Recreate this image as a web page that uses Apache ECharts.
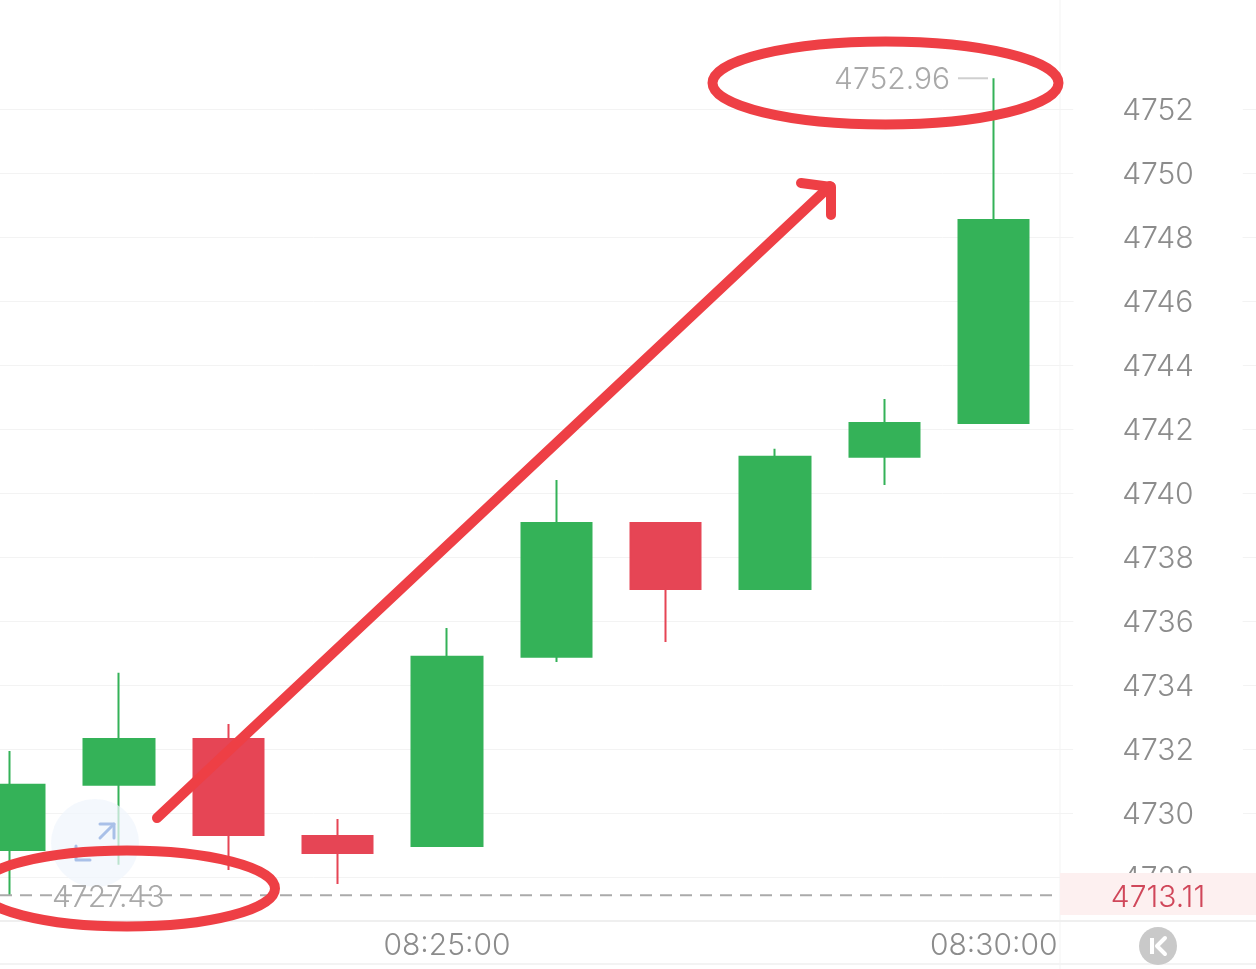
<!DOCTYPE html>
<html>
<head>
<meta charset="utf-8">
<style>html,body{margin:0;padding:0;background:#fff}#c{width:1256px;height:969px}</style>
<script src="https://cdn.jsdelivr.net/npm/echarts@6/dist/echarts.min.js"></script>
</head>
<body>
<div id="c"></div>
<script>
// two spare categories on the right so the grid lines run off the page
const times = ['08:21:00', '08:22:00', '08:23:00', '08:24:00', '08:25:00', '08:26:00', '08:27:00', '08:28:00', '08:29:00', '08:30:00', '08:31:00', '08:32:00'];
const shownTimes = ['08:25:00', '08:30:00'];
const opens = [4728.84, 4730.88, 4732.31, 4729.28, 4728.97, 4734.88, 4739.06, 4737.00, 4741.13, 4742.19];
const closes = [4730.88, 4732.31, 4729.31, 4728.75, 4734.88, 4739.06, 4737.00, 4741.13, 4742.19, 4748.53];
const lows = [4727.43, 4728.38, 4728.22, 4727.78, 4728.97, 4734.72, 4735.34, 4737.00, 4740.25, 4742.19];
const highs = [4731.94, 4734.38, 4732.78, 4729.81, 4735.78, 4740.41, 4739.06, 4741.38, 4742.94, 4752.96];
const lowLabel = 4727.43;
const highLabel = 4752.96;
const lastLabel = '4713.11';

const GREEN = '#34b258', RED = '#e64555', INK = '#ee3f45', GREY = '#8c8c8c', SOFT = '#a9a9a9';
const FONT = 'Inter, Roboto, sans-serif';
const SIZE = 30;

const chart = echarts.init(document.getElementById('c'), null, { renderer: 'canvas' });
chart.setOption({
  animation: false,
  backgroundColor: '#fff',
  grid: { left: -45, top: 45, width: 1312, height: 896, outerBoundsMode: 'none' },
  xAxis: {
    type: 'category', data: times,
    axisLine: { show: false }, axisTick: { show: false }, splitLine: { show: false },
    axisLabel: {
      color: GREY, fontFamily: FONT, fontWeight: 300, fontSize: SIZE, margin: 5, verticalAlign: 'middle',
      interval: (i, v) => shownTimes.includes(v),
    },
  },
  yAxis: {
    type: 'value', position: 'right', min: 4726, max: 4754, interval: 2,
    axisLine: { show: false }, axisTick: { show: false },
    splitLine: { lineStyle: { color: '#f3f3f3', width: 1 }, showMinLine: false, showMaxLine: false },
    axisLabel: {
      inside: true, margin: 109, align: 'center', verticalAlign: 'top', lineHeight: 4,
      color: GREY, fontFamily: FONT, fontWeight: 300, fontSize: SIZE,
      backgroundColor: '#fff', padding: [0, 49], showMinLabel: false, showMaxLabel: false,
      formatter: v => String(v),
    },
  },
  series: [{
    type: 'candlestick',
    barWidth: 71,
    data: opens.map((o, i) => [o, closes[i], lows[i], highs[i]]),
    itemStyle: { color: GREEN, color0: RED, borderColor: GREEN, borderColor0: RED, borderWidth: 2 },
  }],
});

// overlays that hang off the price scale
const yLow = chart.convertToPixel({ yAxisIndex: 0 }, lowLabel);
const yHigh = chart.convertToPixel({ yAxisIndex: 0 }, highLabel);
const line = (x1, y1, x2, y2, stroke, lineWidth, z, extra) => ({
  type: 'line', z, shape: { x1, y1, x2, y2 }, style: Object.assign({ stroke, lineWidth }, extra),
});
const poly = (points, stroke, lineWidth, z) => ({
  type: 'polyline', z, shape: { points }, style: { stroke, lineWidth, fill: null, lineCap: 'round', lineJoin: 'round' },
});
const ring = (cx, cy, rx, ry, rotation) => ({
  type: 'ellipse', z: 90, x: cx, y: cy, rotation, shape: { cx: 0, cy: 0, rx, ry },
  style: { stroke: INK, lineWidth: 10, fill: null },
});
const label = (x, y, text, fill, align) => ({
  type: 'text', z: 95, x, y,
  style: { text, fill, font: '300 ' + SIZE + 'px ' + FONT, align, verticalAlign: 'middle' },
});

chart.setOption({
  graphic: [
    line(1060, 0, 1060, 969, '#f3f3f3', 1, 1),
    line(0, 921, 1256, 921, '#efefef', 2, 1),
    line(0, 964, 1256, 964, '#f3f3f3', 2, 1),
    line(0, yLow, 1060, yLow, '#aaaaaa', 2, 20, { lineDash: [12, 8] }),
    line(958, yHigh, 988, yHigh, '#cfcfcf', 2, 20),
    { type: 'rect', z: 30, shape: { x: 1060, y: 873, width: 196, height: 42 }, style: { fill: '#fdf0f0' } },
    label(1158, 898, lastLabel, '#d0475a', 'center'),
    label(950, yHigh + 2, highLabel.toFixed(2), SOFT, 'right'),
    label(52, yLow + 3, lowLabel.toFixed(2), SOFT, 'left'),
    // floating expand button
    { type: 'circle', z: 40, shape: { cx: 95, cy: 843, r: 44 }, style: { fill: 'rgba(240,245,252,0.72)' } },
    poly([[100, 838], [114, 824]], '#a9c0e8', 3, 41),
    poly([[100, 824], [114, 824], [114, 838]], '#a9c0e8', 3, 41),
    poly([[76, 846], [76, 860], [90, 860]], '#a9c0e8', 3, 41),
    // hand drawn marks
    ring(885.5, 83, 173, 41.5, 0),
    ring(127, 888.5, 148, 38, 0),
    poly([[157, 818], [830, 186]], INK, 10, 90),
    poly([[801, 183], [831, 187], [831, 215]], INK, 10, 90),
    // K button
    { type: 'circle', z: 40, shape: { cx: 1158, cy: 946, r: 19 }, style: { fill: '#c9c9c9' } },
    line(1152, 938, 1152, 954, '#fff', 4, 41),
    poly([[1165, 938], [1157, 946], [1165, 954]], '#fff', 4, 41),
  ],
});
</script>
</body>
</html>
